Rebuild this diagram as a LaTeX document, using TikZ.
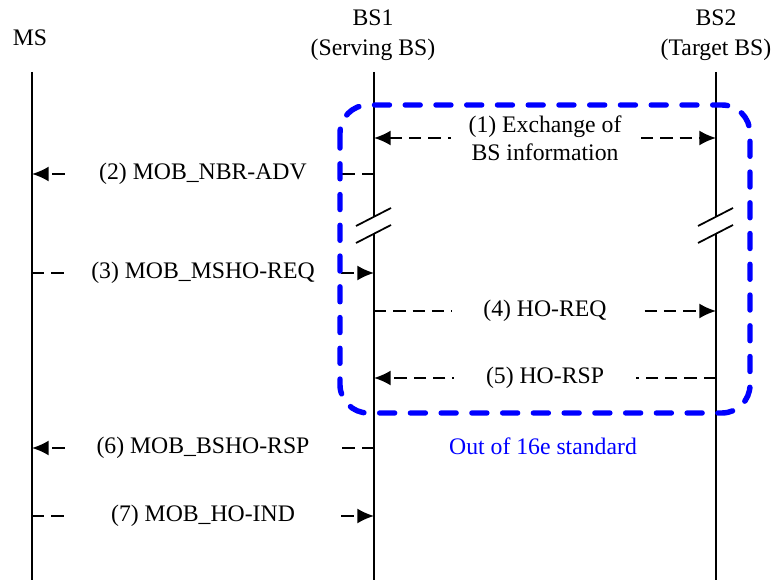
\documentclass[tikz,border=0pt]{standalone}
\usepackage{fontspec}
\setmainfont{Liberation Serif}
\usetikzlibrary{arrows.meta}

\begin{document}
\begin{tikzpicture}[x=0.02cm, y=-0.02cm, semithick, >={Latex[length=9.5pt,width=8.5pt]},
font=\fontsize{13.5}{16}\selectfont,
life/.style={line width=1pt},
msg/.style={line width=1pt, dash pattern=on 7pt off 4pt, ->},
lbl/.style={fill=white, inner xsep=18pt, inner ysep=2pt, align=center},
head/.style={inner sep=0pt},
scope16e/.style={draw=blue, line width=3.1pt, line cap=round, dash pattern=on 8.5pt off 9pt, rounded corners=16pt}]
\useasboundingbox (0,0) rectangle (775,580);

\node[head] (ms) at (30,38) {MS};
\node[head] (bs1) at (373,18) {BS1};
\node[head] (serving) at (373,50) {(Serving BS)};
\node[head] (bs2) at (716,18) {BS2};
\node[head] (target) at (716,50) {(Target BS)};

% lifelines
\coordinate (ms-top) at (32,72);
\coordinate (ms-bot) at (32,580);
\coordinate (bs1-top) at (374,72);
\coordinate (bs1-cuta) at (374,217);
\coordinate (bs1-cutb) at (374,234);
\coordinate (bs1-bot) at (374,580);
\coordinate (bs2-top) at (716,72);
\coordinate (bs2-cuta) at (716,217);
\coordinate (bs2-cutb) at (716,234);
\coordinate (bs2-bot) at (716,580);

\draw[life] (ms-top) -- (ms-bot);
\draw[life] (bs1-top) -- (bs1-cuta) (bs1-cutb) -- (bs1-bot);
\draw[life] (bs2-top) -- (bs2-cuta) (bs2-cutb) -- (bs2-bot);

% break marks
\foreach \c in {bs1-cuta, bs1-cutb, bs2-cuta, bs2-cutb}
  \draw[life] ([shift={(-18,9)}]\c) -- ([shift={(17,-9)}]\c);

% message rows
\foreach \n/\y in {1/138, 2/174, 3/273, 4/311, 5/378, 6/448, 7/516} {
  \coordinate (ms-\n) at (32,\y);
  \coordinate (bs1-\n) at (374,\y);
  \coordinate (bs2-\n) at (716,\y);
}

\draw[msg, <->] (bs1-1) -- node[lbl, inner xsep=10pt] {(1) Exchange of\\BS information} (bs2-1);
\draw[msg] (bs1-2) -- node[lbl] {(2) MOB\_NBR-ADV} (ms-2);
\draw[msg] (ms-3) -- node[lbl, inner xsep=12pt] {(3) MOB\_MSHO-REQ} (bs1-3);
\draw[msg] (bs1-4) -- node[lbl] {(4) HO-REQ} (bs2-4);
\draw[msg] (bs2-5) -- node[lbl] {(5) HO-RSP} (bs1-5);
\draw[msg] (bs1-6) -- node[lbl] {(6) MOB\_BSHO-RSP} (ms-6);
\draw[msg] (ms-7) -- node[lbl, inner xsep=24pt] {(7) MOB\_HO-IND} (bs1-7);

% outside the standard
\draw[scope16e] (340,105) rectangle (750,413);
\node[text=blue] (out16e) at (543,446) {Out of 16e standard};
\end{tikzpicture}
\end{document}
